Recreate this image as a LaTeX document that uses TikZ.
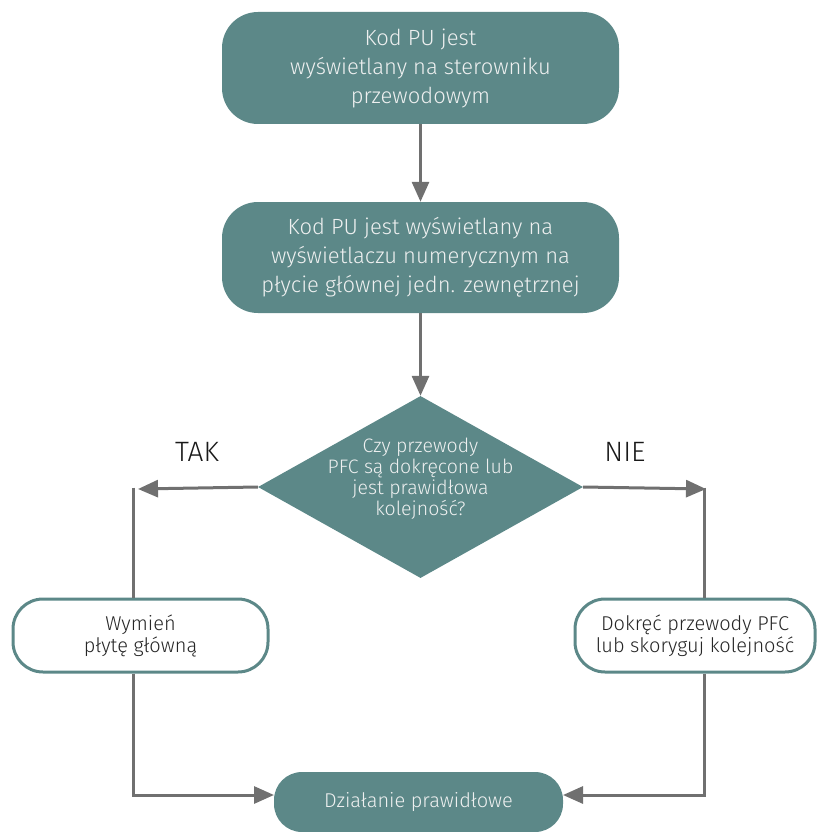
\documentclass[tikz,border=0pt]{standalone}
\usepackage{fontspec}
\setmainfont{Fira Sans Light}
\usetikzlibrary{arrows.meta,shapes.geometric}
\definecolor{teal1}{RGB}{92,136,136}
\definecolor{arrowgray}{RGB}{112,112,112}
\definecolor{lighttext}{RGB}{238,240,240}
\tikzset{
  tealbox/.style={rectangle, rounded corners=36pt, fill=teal1, text=lighttext, align=center, inner sep=0pt, font=\fontsize{22}{29}\selectfont},
  whitebox/.style={rectangle, rounded corners=30pt, draw=teal1, line width=3pt, fill=white, text=black!85, align=center, inner sep=0pt, font=\fontsize{20}{22}\selectfont},
  conn/.style={draw=arrowgray, line width=3pt},
  arr/.style={conn, -{Triangle[length=20pt,width=17pt]}},
  lbl/.style={font=\fontsize{28}{32}\selectfont, text=black!90}
}
\begin{document}
\begin{tikzpicture}[x=1pt,y=-1pt]
\useasboundingbox (0,0) rectangle (817,832);
\node[tealbox, minimum width=397pt, minimum height=112pt] (b1) at (420.5,68) {Kod PU jest\\wyświetlany na sterowniku\\przewodowym};
\node[tealbox, minimum width=397pt, minimum height=111pt] (b2) at (420.5,257.5) {Kod PU jest wyświetlany na\\wyświetlaczu numerycznym na\\płycie głównej jedn. zewnętrznej};
\node[diamond, fill=teal1, minimum width=325pt, minimum height=182pt, inner sep=0pt] (d) at (420.5,487) {};
\node[text=lighttext, align=center, font=\fontsize{19.5}{21}\selectfont] (dt) at (420.5,479) {Czy przewody\\PFC są dokręcone lub\\jest prawidłowa\\kolejność?};
\node[whitebox, minimum width=255pt, minimum height=73pt] (lb) at (140.5,635.5) {Wymień\\płytę główną};
\node[whitebox, minimum width=240pt, minimum height=73pt] (rb) at (695,635.5) {Dokręć przewody PFC\\lub skoryguj kolejność};
\node[tealbox, rounded corners=28pt, minimum width=289pt, minimum height=60pt, font=\fontsize{20}{24}\selectfont] (fin) at (418.5,802) {Działanie prawidłowe};
\node[lbl] (tak) at (197,452) {TAK};
\node[lbl] (nie) at (625,452) {NIE};
\coordinate (lt) at (133,487.5);
\coordinate (lta) at (138,489);
\coordinate (lbt) at (133,795);
\coordinate (rt) at (704,487.5);
\coordinate (rta) at (706,489);
\coordinate (rbt) at (704,795);
\coordinate (fw) at (274,795);
\coordinate (fe) at (563,795);
\draw[arr] (b1.south) -- (b2.north);
\draw[arr] (b2.south) -- (d.north);
\draw[arr] (d.west) -- (lta);
\draw[arr] (d.east) -- (rta);
\draw[conn] (lt) -- (lt |- lb.north);
\draw[conn] (rt) -- (rt |- rb.north);
\draw[arr] (lt |- lb.south) -- (lbt) -- (fw);
\draw[arr] (rt |- rb.south) -- (rbt) -- (fe);
\end{tikzpicture}
\end{document}
